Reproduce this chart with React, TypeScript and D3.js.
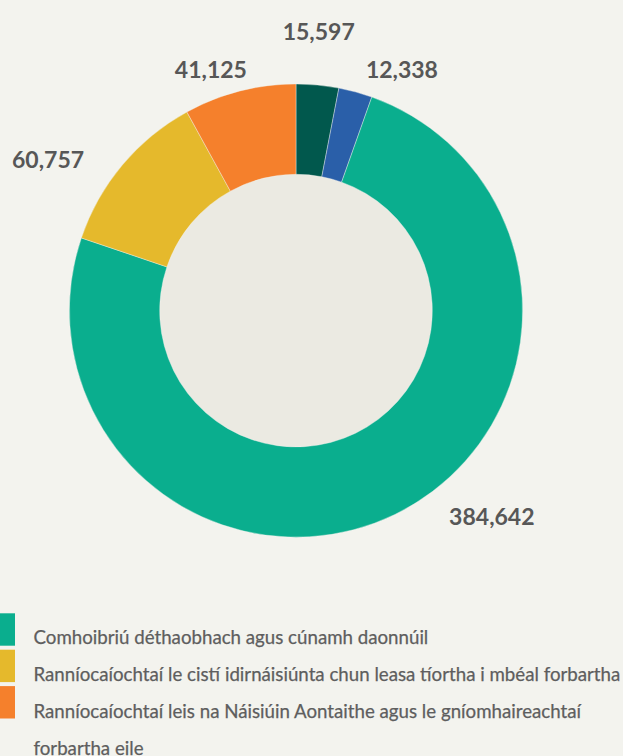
import React from "react";
import * as d3 from "d3";

const categories = [
  "Dark green",
  "Blue",
  "Comhoibriú déthaobhach agus cúnamh daonnúil",
  "Ranníocaíochtaí le cistí idirnáisiúnta chun leasa tíortha i mbéal forbartha",
  "Ranníocaíochtaí leis na Náisiúin Aontaithe agus le gníomhaireachtaí forbartha eile",
];
const values = [15597, 12338, 384642, 60757, 41125];
const colors = ["#01584d", "#2a5fa9", "#0aae8e", "#e5b92c", "#f5802c"];
const valueLabels = ["15,597", "12,338", "384,642", "60,757", "41,125"];
const legendIndex = [2, 3, 4];
const legendLines = [
  ["Comhoibriú déthaobhach agus cúnamh daonnúil"],
  ["Ranníocaíochtaí le cistí idirnáisiúnta chun leasa tíortha i mbéal forbartha"],
  ["Ranníocaíochtaí leis na Náisiúin Aontaithe agus le gníomhaireachtaí", "forbartha eile"],
];
// label nudges (layout)
const labelNudge: [number, number][] = [
  [-3, -11],
  [35, 19],
  [78, -38],
  [-41, 22],
  [-18, 20],
];

const W = 623;
const H = 756;
const cx = 296;
const cy = 310.6;
const outerR = 226.6;
const innerR = 136.3;

export default function App() {
  const pie = d3.pie<number>().sort(null).value((d) => d);
  const arcs = pie(values);
  const arcGen = d3.arc<d3.PieArcDatum<number>>().innerRadius(innerR).outerRadius(outerR);
  const labelR = 270;

  return (
    <svg
      width={W}
      height={H}
      style={{ position: "absolute", left: 0, top: 0, display: "block" }}
    >
      <rect x={0} y={0} width={W} height={H} fill="#f3f3ee" />
      <g transform={`translate(${cx},${cy})`}>
        <circle r={innerR} fill="#ebeae2" />
        {arcs.map((a, i) => (
          <path key={i} d={arcGen(a) || ""} fill={colors[i]} stroke="#f3f3ee" strokeWidth={0.4} />
        ))}
        {arcs.map((a, i) => {
          const mid = (a.startAngle + a.endAngle) / 2;
          const x = Math.sin(mid) * labelR + labelNudge[i][0];
          const y = -Math.cos(mid) * labelR + labelNudge[i][1];
          return (
            <text
              key={"l" + i}
              x={x}
              y={y}
              textAnchor="middle"
              dominantBaseline="central"
              fontFamily="Lato"
              fontWeight="bold"
              fontSize={23}
              fill="#575757"
            >
              {valueLabels[i]}
            </text>
          );
        })}
      </g>
      <g>
        {legendIndex.map((ci, k) => (
          <rect key={"s" + k} x={-18} y={613.3 + k * 36.4} width={33} height={32.4} fill={colors[ci]} />
        ))}
        {legendLines.map((lines, k) =>
          lines.map((ln, j) => (
            <text
              key={"t" + k + "-" + j}
              x={33.5}
              y={643.7 + (k + j) * 37}
              fontFamily="Lato"
              fontSize={18.7}
              fill="#5e5e5e"
              stroke="#5e5e5e"
              strokeWidth={0.25}
            >
              {ln}
            </text>
          ))
        )}
      </g>
    </svg>
  );
}
